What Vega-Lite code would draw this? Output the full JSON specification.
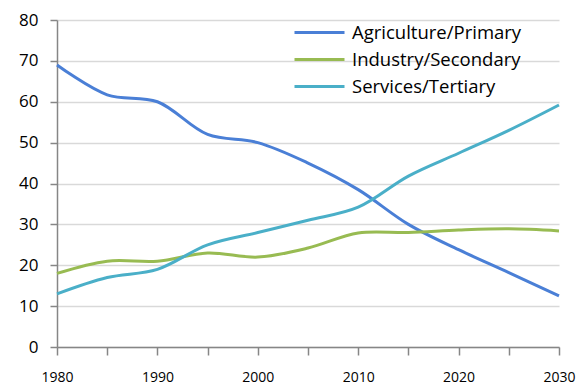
{
  "$schema": "https://vega.github.io/schema/vega-lite/v6.json",
  "width": 502,
  "height": 327,
  "autosize": {"type": "none"},
  "padding": {"left": 57, "top": 20, "right": 20, "bottom": 38},
  "background": "white",
  "config": {
    "font": "Open Sans",
    "view": {"stroke": null}
  },
  "data": {
    "values": [
      {"year": 1980, "sector": "Agriculture/Primary", "value": 69},
      {"year": 1985, "sector": "Agriculture/Primary", "value": 61.7},
      {"year": 1990, "sector": "Agriculture/Primary", "value": 60},
      {"year": 1995, "sector": "Agriculture/Primary", "value": 52},
      {"year": 2000, "sector": "Agriculture/Primary", "value": 50},
      {"year": 2005, "sector": "Agriculture/Primary", "value": 45},
      {"year": 2010, "sector": "Agriculture/Primary", "value": 38.5},
      {"year": 2015, "sector": "Agriculture/Primary", "value": 30},
      {"year": 2020, "sector": "Agriculture/Primary", "value": 23.8},
      {"year": 2025, "sector": "Agriculture/Primary", "value": 18.2},
      {"year": 2030, "sector": "Agriculture/Primary", "value": 12.5},
      {"year": 1980, "sector": "Industry/Secondary", "value": 18},
      {"year": 1985, "sector": "Industry/Secondary", "value": 21},
      {"year": 1990, "sector": "Industry/Secondary", "value": 21},
      {"year": 1995, "sector": "Industry/Secondary", "value": 23},
      {"year": 2000, "sector": "Industry/Secondary", "value": 22},
      {"year": 2005, "sector": "Industry/Secondary", "value": 24.2},
      {"year": 2010, "sector": "Industry/Secondary", "value": 27.9},
      {"year": 2015, "sector": "Industry/Secondary", "value": 28},
      {"year": 2020, "sector": "Industry/Secondary", "value": 28.6},
      {"year": 2025, "sector": "Industry/Secondary", "value": 28.9},
      {"year": 2030, "sector": "Industry/Secondary", "value": 28.4},
      {"year": 1980, "sector": "Services/Tertiary", "value": 13},
      {"year": 1985, "sector": "Services/Tertiary", "value": 17},
      {"year": 1990, "sector": "Services/Tertiary", "value": 19},
      {"year": 1995, "sector": "Services/Tertiary", "value": 25},
      {"year": 2000, "sector": "Services/Tertiary", "value": 28},
      {"year": 2005, "sector": "Services/Tertiary", "value": 31},
      {"year": 2010, "sector": "Services/Tertiary", "value": 34.2},
      {"year": 2015, "sector": "Services/Tertiary", "value": 41.8},
      {"year": 2020, "sector": "Services/Tertiary", "value": 47.4},
      {"year": 2025, "sector": "Services/Tertiary", "value": 53},
      {"year": 2030, "sector": "Services/Tertiary", "value": 59.2}
    ]
  },
  "mark": {"type": "line", "interpolate": "catmull-rom", "strokeWidth": 3},
  "encoding": {
    "x": {
      "field": "year",
      "type": "quantitative",
      "scale": {"domain": [1980, 2030], "nice": false, "zero": false},
      "axis": {
        "title": null,
        "values": [1980, 1985, 1990, 1995, 2000, 2005, 2010, 2015, 2020, 2025, 2030],
        "labelExpr": "datum.value % 10 === 0 ? datum.value : ''",
        "format": "d",
        "grid": false,
        "domainColor": "#868686",
        "domainWidth": 1.5,
        "tickColor": "#868686",
        "tickWidth": 1.5,
        "tickSize": 8,
        "labelPadding": 15,
        "labelFontSize": 14,
        "labelColor": "#000000",
        "labelFlush": false,
        "labelOverlap": false
      }
    },
    "y": {
      "field": "value",
      "type": "quantitative",
      "scale": {"domain": [0, 80], "nice": false},
      "axis": {
        "title": null,
        "values": [0, 10, 20, 30, 40, 50, 60, 70, 80],
        "grid": true,
        "gridColor": "#d9d9d9",
        "gridWidth": 1.5,
        "domainColor": "#868686",
        "domainWidth": 1.5,
        "tickColor": "#868686",
        "tickWidth": 1.5,
        "tickSize": 7,
        "labelPadding": 12,
        "labelFontSize": 17,
        "labelColor": "#000000"
      }
    },
    "color": {
      "field": "sector",
      "type": "nominal",
      "scale": {
        "domain": ["Agriculture/Primary", "Industry/Secondary", "Services/Tertiary"],
        "range": ["#4a7fd6", "#98bb52", "#4aafc8"]
      },
      "legend": {
        "title": null,
        "orient": "none",
        "legendX": 236,
        "legendY": -1,
        "symbolType": "stroke",
        "symbolSize": 2500,
        "symbolStrokeWidth": 3,
        "labelFontSize": 18.5,
        "labelLimit": 300,
        "labelColor": "#000000",
        "clipHeight": 27,
        "rowPadding": 0,
        "labelOffset": 6
      }
    }
  }
}
